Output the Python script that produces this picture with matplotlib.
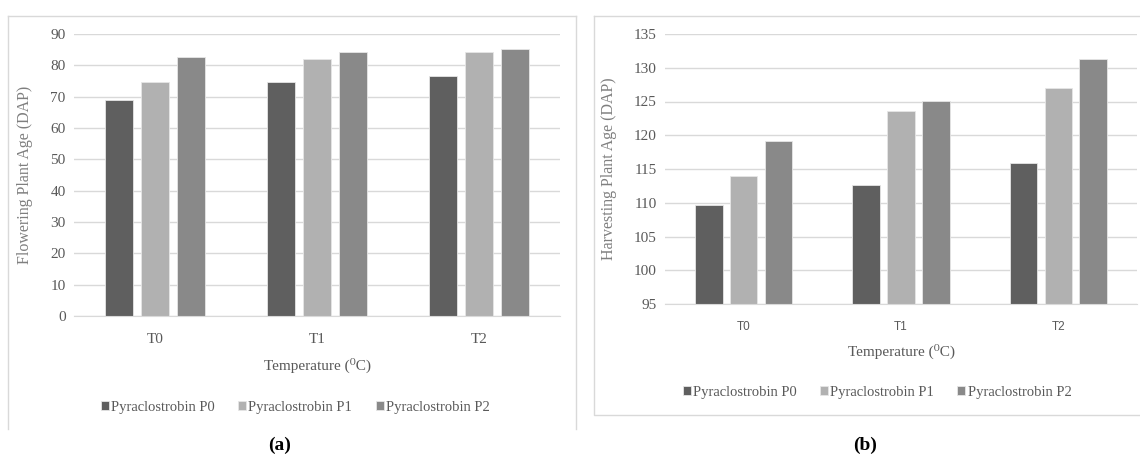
import matplotlib
matplotlib.use("Agg")
import matplotlib.pyplot as plt
import numpy as np
from matplotlib.lines import Line2D

categories = ["T0", "T1", "T2"]
series = ["Pyraclostrobin P0", "Pyraclostrobin P1", "Pyraclostrobin P2"]
flowering_p0 = [69.0, 74.8, 76.5]
flowering_p1 = [74.6, 82.1, 84.4]
flowering_p2 = [82.8, 84.1, 85.1]
harvest_p0 = [109.6, 112.7, 115.9]
harvest_p1 = [114.0, 123.6, 127.0]
harvest_p2 = [119.2, 125.1, 131.3]
flow_ticks = [0, 10, 20, 30, 40, 50, 60, 70, 80, 90]
harv_ticks = [95, 100, 105, 110, 115, 120, 125, 130, 135]

colors = ["#5f5f5f", "#b1b1b1", "#898989"]
SERIF = ["Liberation Serif", "DejaVu Serif"]
TXT = "#595959"

W, H = 1140, 457
fig = plt.figure(figsize=(W / 100, H / 100), dpi=100)
fig.patch.set_facecolor("white")


def px_axes(l, t, r, b):
    return fig.add_axes([l / W, 1 - b / H, (r - l) / W, (b - t) / H])


def fig_line(xs, ys):
    fig.add_artist(Line2D([x / W for x in xs], [1 - y / H for y in ys],
                          color="#d9d9d9", lw=1.0, transform=fig.transFigure))


def draw_panel(ax, data, ticks, ylim, ylabel, xtick_font, xtick_size, xpad,
               ylab_x, leg_xy):
    x = np.arange(len(categories))
    width = 0.175
    step = 0.222
    for i, (vals, c, name) in enumerate(zip(data, colors, series)):
        ax.bar(x + (i - 1) * step, np.array(vals) - ylim[0], width,
               bottom=ylim[0], color=c, edgecolor="#e6e6e6", linewidth=0.6,
               label=name, zorder=3)
    ax.set_xlim(-0.5, 2.5)
    ax.set_ylim(*ylim)
    ax.set_yticks(ticks)
    ax.set_yticklabels([str(t) for t in ticks], family=SERIF, fontsize=11,
                       color=TXT)
    ax.set_xticks(x)
    ax.set_xticklabels(categories, family=xtick_font, fontsize=xtick_size,
                       color=TXT)
    ax.tick_params(axis="both", length=0)
    ax.tick_params(axis="x", pad=xpad)
    ax.tick_params(axis="y", pad=6)
    ax.grid(axis="y", color="#d9d9d9", lw=1.0, zorder=0)
    for s in ["left", "right", "top"]:
        ax.spines[s].set_visible(False)
    ax.spines["bottom"].set_color("#d9d9d9")
    ax.spines["bottom"].set_zorder(4)
    ax.set_ylabel(ylabel, family=SERIF, fontsize=11.5, color="#7f7f7f")
    ax.yaxis.set_label_coords(ylab_x, 0.5)
    ax.set_xlabel("Temperature (\u2070C)", family=SERIF, fontsize=11,
                  color=TXT)
    ax.xaxis.set_label_coords(0.5, -0.148)
    ax.legend(loc="center", bbox_to_anchor=leg_xy, ncol=3, frameon=False,
              prop={"family": SERIF, "size": 10.5}, labelcolor=TXT,
              handlelength=0.55, handleheight=0.55, handletextpad=0.15,
              columnspacing=1.6, borderaxespad=0)


# Panel (a)
axa = px_axes(74, 34, 560, 316)
draw_panel(axa, [flowering_p0, flowering_p1, flowering_p2], flow_ticks,
           (0, 90), "Flowering Plant Age (DAP)", SERIF, 11, 12, -0.084,
           (0.455, -0.323))

# Panel (b)
axb = px_axes(665, 34, 1137, 304)
draw_panel(axb, [harvest_p0, harvest_p1, harvest_p2], harv_ticks,
           (95, 135), "Harvesting Plant Age (DAP)", ["Liberation Sans"], 8.5, 12,
           -0.102, (0.449, -0.326))

# frames
fig_line([8, 576], [16, 16])
fig_line([8, 8], [16, 429])
fig_line([576, 576], [16, 429])
fig_line([594, 1141, 1141, 594, 594], [16, 16, 415, 415, 16])

fig.text(280 / W, 1 - 445 / H, "(a)", family=SERIF, fontsize=14,
         fontweight="bold", ha="center", va="center", color="black")
fig.text(865 / W, 1 - 445 / H, "(b)", family=SERIF, fontsize=14,
         fontweight="bold", ha="center", va="center", color="black")

fig.savefig("out.png", dpi=100, facecolor="white")
